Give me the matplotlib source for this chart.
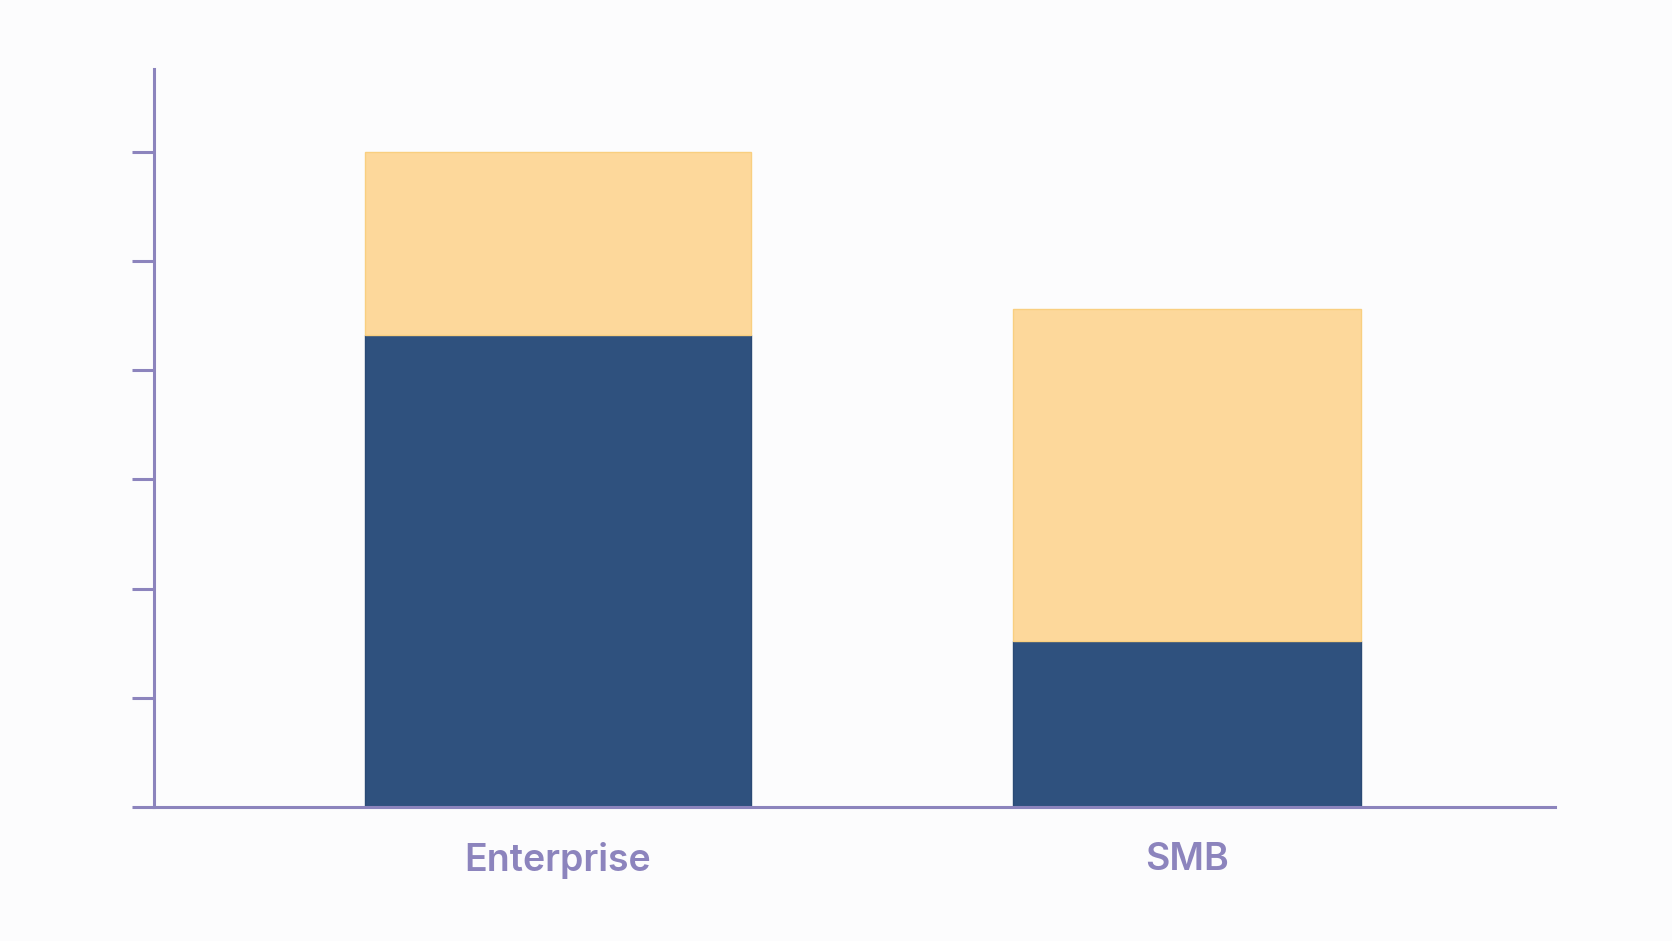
import matplotlib.pyplot as plt

# Data (no value labels shown)
categories = ["Enterprise", "SMB"]
dark_values = [4.32, 1.52]
light_values = [1.68, 3.04]
bar_widths = [0.614, 0.552]
y_ticks = [0, 1, 2, 3, 4, 5, 6]

AXIS_COLOR = "#8c84bd"
DARK = "#2f517e"
LIGHT = "#fdd89b"
BG = "#fcfcfd"

fig = plt.figure(figsize=(16.72, 9.41), dpi=100, facecolor=BG)
ax = fig.add_axes([0.0921, 0.1424, 0.8379, 0.7843], facecolor=BG)

x = list(range(len(categories)))
ax.bar(x, dark_values, width=bar_widths, color=DARK, edgecolor="#2a4a75", linewidth=1, zorder=2)
ax.bar(x, light_values, bottom=dark_values, width=bar_widths, color=LIGHT,
       edgecolor="#f9cf80", linewidth=1, zorder=2)

ax.set_xlim(-0.642, 1.585)
ax.set_ylim(0, 6.76)

for side in ["top", "right"]:
    ax.spines[side].set_visible(False)
for side in ["left", "bottom"]:
    ax.spines[side].set_color(AXIS_COLOR)
    ax.spines[side].set_linewidth(2.2)
    ax.spines[side].set_zorder(3)

ax.set_yticks(y_ticks)
ax.set_yticklabels([])
ax.tick_params(axis="y", length=16, width=2.2, color=AXIS_COLOR)

ax.set_xticks(x)
ax.set_xticklabels(categories, fontsize=27, color=AXIS_COLOR, fontweight="semibold",
                   family=["Inter", "DejaVu Sans"])
ax.tick_params(axis="x", length=0, pad=25)
ax.get_xticklabels()[1].set_x(-0.01)

fig.savefig("out.png", dpi=100, facecolor=BG)
